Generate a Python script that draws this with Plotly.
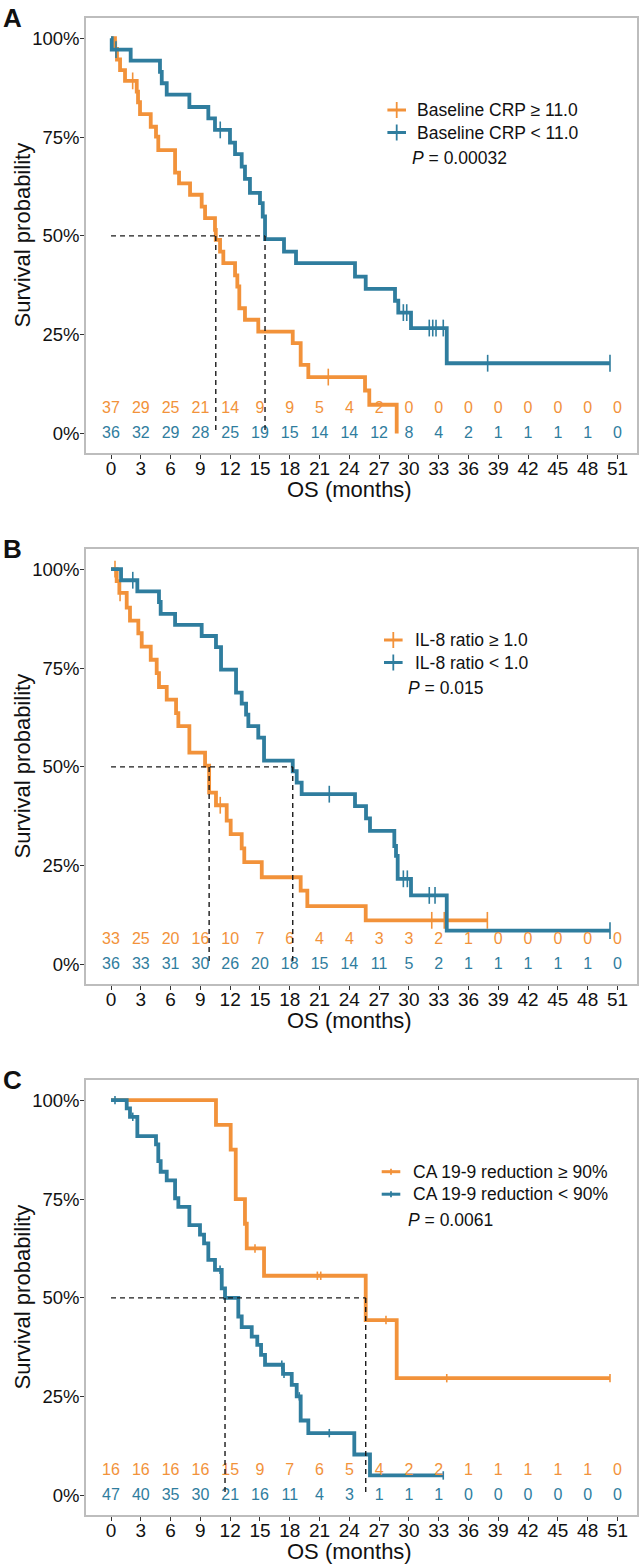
import plotly.graph_objects as go

W, H = 643, 1565
FONT = "Liberation Sans, Arial, Helvetica, sans-serif"
ORANGE = "#F2923A"
BLUE = "#2F7D9E"

RISK_TIMES = list(range(0, 52, 3))
Y_TICKS = [0, 0.25, 0.5, 0.75, 1.0]
Y_TICK_TEXT = ["0%", "25%", "50%", "75%", "100%"]

# ---- Panel A: baseline CRP ----
A_HIGH_T = [0.40, 0.60, 0.91, 1.41, 2.59, 2.72, 2.92, 4.00, 4.53, 4.76, 6.45, 6.85, 7.96, 9.13, 9.47,
            10.47, 10.55, 10.98, 11.31, 12.49, 12.72, 12.92, 13.49, 14.83, 18.30, 19.10, 19.87, 25.58,
            26.01, 28.77]
A_HIGH_S = [0.973, 0.946, 0.919, 0.892, 0.865, 0.838, 0.808, 0.776, 0.751, 0.717, 0.660, 0.633, 0.604,
            0.574, 0.545, 0.515, 0.490, 0.460, 0.431, 0.400, 0.372, 0.317, 0.288, 0.258, 0.229, 0.174,
            0.143, 0.109, 0.073, 0.0]
A_HIGH_CENS = [0.53, 2.18, 21.88]
A_LOW_T = [0.07, 1.98, 4.93, 5.11, 5.61, 7.89, 9.80, 10.47, 11.98, 12.49, 13.16, 13.49, 13.99, 15.00,
           15.28, 15.51, 17.42, 18.63, 24.57, 25.65, 28.60, 28.93, 30.21, 33.81]
A_LOW_S = [0.971, 0.943, 0.915, 0.886, 0.857, 0.826, 0.797, 0.768, 0.736, 0.707, 0.675, 0.644, 0.609,
           0.583, 0.549, 0.492, 0.460, 0.431, 0.397, 0.366, 0.336, 0.306, 0.267, 0.178]
A_LOW_CENS = [0.50, 11.00, 29.44, 29.78, 32.05, 32.40, 32.73, 33.46, 37.93, 50.25]
A_MEDIANS = [10.55, 15.51]
A_RISK_HIGH = [37, 29, 25, 21, 14, 9, 9, 5, 4, 2, 0, 0, 0, 0, 0, 0, 0, 0]
A_RISK_LOW = [36, 32, 29, 28, 25, 19, 15, 14, 14, 12, 8, 4, 2, 1, 1, 1, 1, 0]
A_LABELS = ["Baseline CRP \u2265 11.0", "Baseline CRP < 11.0"]
A_P = "0.00032"

# ---- Panel B: IL-8 ratio ----
B_HIGH_T = [0.57, 0.84, 1.58, 1.91, 2.75, 3.09, 4.00, 4.60, 4.83, 5.61, 6.55, 6.78, 7.89, 9.47, 9.88,
            10.57, 11.65, 12.05, 13.16, 13.42, 15.18, 19.10, 19.77, 25.65]
B_HIGH_S = [0.970, 0.940, 0.903, 0.870, 0.838, 0.804, 0.771, 0.737, 0.702, 0.670, 0.636, 0.603, 0.536,
            0.503, 0.435, 0.403, 0.364, 0.330, 0.294, 0.259, 0.221, 0.187, 0.148, 0.112]
B_HIGH_CENS = [0.40, 0.91, 11.00, 32.30, 33.56, 37.90]
B_LOW_T = [1.01, 2.65, 4.83, 5.00, 6.45, 9.13, 10.57, 11.08, 12.59, 13.16, 13.60, 13.83, 14.83, 15.41,
           18.30, 18.70, 19.20, 24.57, 25.68, 26.08, 28.53, 28.70, 28.87, 30.21, 33.81]
B_LOW_S = [0.972, 0.944, 0.917, 0.887, 0.859, 0.831, 0.803, 0.746, 0.688, 0.660, 0.632, 0.603, 0.574,
           0.516, 0.489, 0.460, 0.431, 0.401, 0.370, 0.338, 0.300, 0.275, 0.217, 0.175, 0.086]
B_LOW_CENS = [2.19, 21.98, 29.44, 29.84, 32.05, 32.63, 50.25]
B_MEDIANS = [9.88, 18.30]
B_RISK_HIGH = [33, 25, 20, 16, 10, 7, 6, 4, 4, 3, 3, 2, 1, 0, 0, 0, 0, 0]
B_RISK_LOW = [36, 33, 31, 30, 26, 20, 18, 15, 14, 11, 5, 2, 1, 1, 1, 1, 1, 0]
B_LABELS = ["IL-8 ratio \u2265 1.0", "IL-8 ratio < 1.0"]
B_P = "0.015"

# ---- Panel C: CA 19-9 reduction ----
C_HIGH_T = [10.57, 12.05, 12.56, 13.49, 13.67, 15.41, 25.65, 28.77]
C_HIGH_S = [0.9375, 0.875, 0.75, 0.6875, 0.625, 0.556, 0.444, 0.297]
C_HIGH_CENS = [14.50, 20.78, 21.12, 27.69, 33.81, 50.25]
C_LOW_T = [1.58, 1.91, 2.65, 4.53, 4.76, 5.00, 5.61, 6.45, 6.78, 7.89, 8.96, 9.37, 9.80, 10.47, 11.15,
           11.48, 12.82, 13.16, 14.17, 14.73, 15.11, 15.51, 17.32, 18.20, 18.70, 19.10, 19.87, 24.50,
           26.08]
C_LOW_S = [0.979, 0.958, 0.909, 0.888, 0.846, 0.819, 0.797, 0.752, 0.730, 0.684, 0.660, 0.638, 0.596,
           0.571, 0.524, 0.500, 0.453, 0.426, 0.402, 0.381, 0.356, 0.331, 0.308, 0.280, 0.251, 0.190,
           0.158, 0.104, 0.051]
C_LOW_CENS = [0.40, 2.19, 10.98, 17.20, 17.42, 18.96, 21.98, 33.46]
C_MEDIANS = [11.48, 25.65]
C_RISK_HIGH = [16, 16, 16, 16, 15, 9, 7, 6, 5, 4, 2, 2, 1, 1, 1, 1, 1, 0]
C_RISK_LOW = [47, 40, 35, 30, 21, 16, 11, 4, 3, 1, 1, 1, 0, 0, 0, 0, 0, 0]
C_LABELS = ["CA 19-9 reduction \u2265 90%", "CA 19-9 reduction < 90%"]
C_P = "0.0061"


def fx(px):
    return px / W


def fy(py):
    return 1 - py / H


def surv_at(t, times, surv):
    s = 1.0
    for ti, si in zip(times, surv):
        if ti <= t:
            s = si
    return s


def step_xy(times, surv, cens):
    xs = [0] + list(times)
    ys = [1.0] + list(surv)
    if cens and max(cens) > xs[-1]:
        xs.append(max(cens))
        ys.append(ys[-1])
    return xs, ys


def note(x, y, text, size, xanchor="center", **kw):
    return dict(x=fx(x), y=fy(y), xref="paper", yref="paper", text=text, showarrow=False,
                xanchor=xanchor, yanchor="middle", font=dict(family=FONT, size=size, color="#111"), **kw)


panels = [
    dict(letter="A", top=18, groups=[(A_HIGH_T, A_HIGH_S, A_HIGH_CENS, A_RISK_HIGH, ORANGE),
                                     (A_LOW_T, A_LOW_S, A_LOW_CENS, A_RISK_LOW, BLUE)],
         medians=A_MEDIANS, labels=A_LABELS, p=A_P, leg=(396.7, 110, 415, 410), tick=12, big=True),
    dict(letter="B", top=549, groups=[(B_HIGH_T, B_HIGH_S, B_HIGH_CENS, B_RISK_HIGH, ORANGE),
                                      (B_LOW_T, B_LOW_S, B_LOW_CENS, B_RISK_LOW, BLUE)],
         medians=B_MEDIANS, labels=B_LABELS, p=B_P, leg=(393.3, 640, 412.7, 406), tick=12, big=True),
    dict(letter="C", top=1080, groups=[(C_HIGH_T, C_HIGH_S, C_HIGH_CENS, C_RISK_HIGH, ORANGE),
                                       (C_LOW_T, C_LOW_S, C_LOW_CENS, C_RISK_LOW, BLUE)],
         medians=C_MEDIANS, labels=C_LABELS, p=C_P, leg=(391, 1171.7, 410.7, 406), tick=6, big=False),
]

PANEL_H = 435
X_LEFT, X_RIGHT = 86, 637

fig = go.Figure()
shapes = []
annotations = []
layout_axes = {}

for i, p in enumerate(panels, start=1):
    xr = "x" if i == 1 else f"x{i}"
    yr = "y" if i == 1 else f"y{i}"
    top = p["top"]
    bottom = top + PANEL_H

    # curves (orange first, blue on top)
    for times, surv, cens, risk, color in p["groups"]:
        xs, ys = step_xy(times, surv, cens)
        fig.add_trace(go.Scatter(
            x=xs, y=ys, mode="lines", line=dict(color=color, width=3.8, shape="hv"),
            xaxis=xr, yaxis=yr, showlegend=False, hoverinfo="skip",
        ))
        fig.add_trace(go.Scatter(
            x=cens, y=[surv_at(c, times, surv) for c in cens], mode="markers",
            marker=dict(symbol="line-ns", size=p["tick"], line=dict(color=color, width=1.6)),
            xaxis=xr, yaxis=yr, showlegend=False, hoverinfo="skip",
        ))

    # numbers at risk
    for (times, surv, cens, risk, color), yv in zip(p["groups"], [0.062, 0.0]):
        fig.add_trace(go.Scatter(
            x=RISK_TIMES, y=[yv] * len(RISK_TIMES), mode="text",
            text=[str(v) for v in risk], textposition="middle center",
            textfont=dict(family=FONT, size=16, color=color),
            xaxis=xr, yaxis=yr, showlegend=False, hoverinfo="skip",
        ))

    # median lines
    m = p["medians"]
    mx, my = [0, max(m)], [0.5, 0.5]
    for v in m:
        mx += [None, v, v]
        my += [None, 0.5, 0.0]
    fig.add_trace(go.Scatter(
        x=mx, y=my, mode="lines", line=dict(color="#1a1a1a", width=1.4, dash="5px,4px"),
        xaxis=xr, yaxis=yr, showlegend=False, hoverinfo="skip",
    ))

    # axes
    xkey = "xaxis" if i == 1 else f"xaxis{i}"
    ykey = "yaxis" if i == 1 else f"yaxis{i}"
    layout_axes[xkey] = dict(
        domain=[fx(X_LEFT), fx(X_RIGHT)], anchor=yr, range=[-2.52, 52.97], automargin=False,
        tickvals=RISK_TIMES, ticks="outside", ticklen=4, tickcolor="#333", ticklabelstandoff=-7,
        tickfont=dict(family=FONT, size=19, color="#111"),
        showline=True, mirror=True, linecolor="#BDBDBD", linewidth=1.5,
        showgrid=False, zeroline=False, fixedrange=True,
    )
    layout_axes[ykey] = dict(
        domain=[fy(bottom), fy(top)], anchor=xr, range=[-0.049, 1.051], automargin=False,
        tickvals=Y_TICKS, ticktext=Y_TICK_TEXT, ticks="outside", ticklen=4, tickcolor="#333",
        ticklabelstandoff=-3, tickfont=dict(family=FONT, size=18.5, color="#111"),
        showline=True, mirror=True, linecolor="#BDBDBD", linewidth=1.5,
        showgrid=False, zeroline=False, fixedrange=True,
    )

    # panel letter and axis titles
    annotations.append(note(12, top, f"<b>{p['letter']}</b>", 26))
    annotations.append(note(349, bottom + 36, "OS (months)", 22))
    annotations.append(note(22, (top + bottom) / 2, "Survival probability", 22, textangle=-90))

    # legend drawn by hand
    cx, cy, tx, px_ = p["leg"]
    for k, (label, color) in enumerate(zip(p["labels"], [ORANGE, BLUE])):
        yy = cy + k * 22.5
        arm_v = 8 if p["big"] else 3
        shapes.append(dict(type="line", xref="paper", yref="paper", x0=fx(cx - 9.3), x1=fx(cx + 9.3),
                           y0=fy(yy), y1=fy(yy), line=dict(color=color, width=3)))
        shapes.append(dict(type="line", xref="paper", yref="paper", x0=fx(cx), x1=fx(cx),
                           y0=fy(yy - arm_v), y1=fy(yy + arm_v), line=dict(color=color, width=1.8)))
        annotations.append(note(tx, yy, label, 17.5, xanchor="left"))
    annotations.append(note(px_, cy + 48.5, f"<i>P</i> = {p['p']}", 17.5, xanchor="left"))

fig.update_layout(
    width=W, height=H, autosize=False,
    margin=dict(l=0, r=0, t=0, b=0, autoexpand=False),
    paper_bgcolor="white", plot_bgcolor="white",
    showlegend=False,
    shapes=shapes, annotations=annotations,
    **layout_axes,
)

# page body has a default 8px margin; remove it so the figure sits at the window origin
fig.write_html("out.html", config={"displayModeBar": False},
               post_script="document.body.style.margin='0px';")
